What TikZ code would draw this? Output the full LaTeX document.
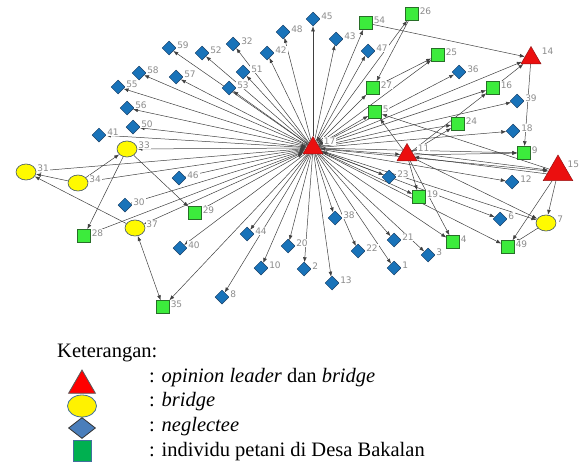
\documentclass[tikz,border=0pt]{standalone}
\usepackage{fontspec}
\setmainfont{Liberation Serif}
\newfontfamily\netfont{DejaVu Sans}
\usepackage{xcolor}
\usetikzlibrary{arrows.meta, shapes.geometric, backgrounds}

\definecolor{nbblue}{RGB}{25,115,185}
\definecolor{nbborder}{RGB}{20,60,100}
\definecolor{farmgreen}{RGB}{60,235,60}
\definecolor{farmborder}{RGB}{40,110,40}
\definecolor{leadred}{RGB}{235,15,15}
\definecolor{leadborder}{RGB}{150,20,20}
\definecolor{bridgeyellow}{RGB}{255,250,0}
\definecolor{bridgeborder}{RGB}{60,80,105}
\definecolor{labelgray}{RGB}{140,140,140}
\definecolor{legborder}{RGB}{65,113,156}
\definecolor{legblue}{RGB}{74,126,187}
\definecolor{leggreen}{RGB}{0,176,80}

\begin{document}
\begin{tikzpicture}[
  x=1pt, y=-1pt,
  >={Latex[length=5pt,width=3.8pt]},
  nlabel/.style={font=\netfont\fontsize{9}{10}\selectfont, text=labelgray,
        fill=white, inner sep=0.8pt},
  neglect/.style={diamond, draw=nbborder, fill=nbblue, line width=0.5pt,
        minimum width=14pt, minimum height=14pt, inner sep=0pt},
  farmer/.style={rectangle, draw=farmborder, fill=farmgreen, line width=0.5pt,
        minimum size=13pt, inner sep=0pt},
  bridgenode/.style={ellipse, draw=bridgeborder, fill=bridgeyellow, line width=0.6pt,
        minimum width=20pt, minimum height=16pt, inner sep=0pt},
  leader/.style={regular polygon, regular polygon sides=3, draw=leadborder,
        fill=leadred, line width=0.5pt, minimum size=23pt, inner sep=0pt},
  tie/.style={->, draw=black!75, line width=0.5pt},
  legtext/.style={font=\fontsize{20.5}{24}\selectfont, anchor=west, inner sep=0pt},
]
\useasboundingbox (0,0) rectangle (582,463);

% --- neglectee (diamonds) ---
\foreach \id/\x/\y in {1/394/268, 2/304/269, 3/428/255, 6/500/219, 8/222/297,
    10/261/268, 12/512/182, 13/332/283, 18/513/131, 20/288/246, 21/394/240,
    22/358/251, 23/389/177, 30/125/205, 32/233/44, 36/459/72, 38/335/218,
    39/517/101, 40/180/248, 41/99/135, 42/267/53, 43/336/39, 44/247/234,
    45/313/19, 46/179/178, 47/368/51, 48/283/32, 50/133/127, 51/243/72,
    52/202/53, 53/229/88, 55/118/87, 56/127/108, 57/176/77, 58/139/73, 59/169/48}
  \node[neglect, label={[nlabel, yshift=3pt]right:\id}] (n\id) at (\x,\y) {};

% --- petani (squares) ---
\foreach \id/\x/\y in {4/453/242, 5/375/112, 9/524/153, 16/493/88, 19/419/197,
    24/458/124, 25/438/55, 26/412/14, 27/373/88, 28/84/236, 29/195/213,
    35/163/307, 49/508/247, 54/366/23}
  \node[farmer, label={[nlabel, yshift=3pt]right:\id}] (n\id) at (\x,\y) {};

% --- bridge (ellipses) ---
\foreach \id/\x/\y in {7/546/223, 31/26/172, 33/127/149, 34/78/183, 37/135/228}
  \node[bridgenode, label={[nlabel, yshift=4pt]right:\id}] (n\id) at (\x,\y) {};

% --- opinion leader dan bridge (triangles) ---
\foreach \id/\x/\y in {11/407/155, 14/531/58, 17/313/148}
  \node[leader, label={[nlabel, xshift=3pt, yshift=7pt]right:\id}] (n\id) at (\x,\y) {};
\node[leader, minimum size=34pt, label={[nlabel, xshift=-1.5pt, yshift=8pt]right:15}]
  (n15) at (558,172) {};

\begin{scope}[on background layer]
% --- ties from 17 ---
\foreach \dst in {1,2,3,4,6,7,8,9,10,12,13,14,15,16,18,20,21,22,24,25,26,
    32,35,36,38,39,40,42,43,44,45,48,49,51,52,53,54,55,57,58,59,19}
  \draw[tie] (n17) -- (n\dst);
\foreach \dst in {5,11,23,27,28,29,30,31,33,34,37,41,46,47,50,56}
  \draw[tie, <->] (n17) -- (n\dst);

% --- other ties ---
\foreach \src/\dst in {54/14, 26/27, 27/25, 16/14, 14/9, 11/16, 11/24, 11/5,
    15/5, 11/9, 15/7, 15/49, 7/49, 11/7, 11/19, 11/4, 34/33, 33/28, 33/29,
    37/31, 34/31}
  \draw[tie] (n\src) -- (n\dst);
\draw[tie] ([yshift=2pt]n11.east) -- ([yshift=2pt]n15.west);
\draw[tie] ([yshift=-2pt]n15.west) -- ([yshift=-2pt]n11.east);
\draw[tie, <->] (n37) -- (n35);
\end{scope}

% --- Keterangan ---
\node[legtext] (keterangan) at (57,353) {Keterangan:};
\node[regular polygon, regular polygon sides=3, draw=black!65, fill=red,
      line width=0.8pt, minimum size=31pt, inner sep=0pt] (kleader) at (82,385.5) {};
\node[ellipse, draw=legborder, fill=yellow, line width=0.8pt,
      minimum width=29pt, minimum height=22pt, inner sep=0pt] (kbridge) at (82,406) {};
\node[diamond, draw=black!80, fill=legblue, line width=0.8pt,
      minimum width=27pt, minimum height=21pt, inner sep=0pt] (kneglect) at (82,428) {};
\node[rectangle, draw=legborder, fill=leggreen, line width=0.8pt,
      minimum width=18pt, minimum height=21pt, inner sep=0pt] (kfarmer) at (82,450.5) {};

\node[legtext] (tleader) at (149,378) {: \textit{opinion leader} dan \textit{bridge}};
\node[legtext] (tbridge) at (149,402) {: \textit{bridge}};
\node[legtext] (tneglect) at (149,427) {: \textit{neglectee}};
\node[legtext] (tfarmer) at (149,452) {: individu petani di Desa Bakalan};

\end{tikzpicture}
\end{document}
